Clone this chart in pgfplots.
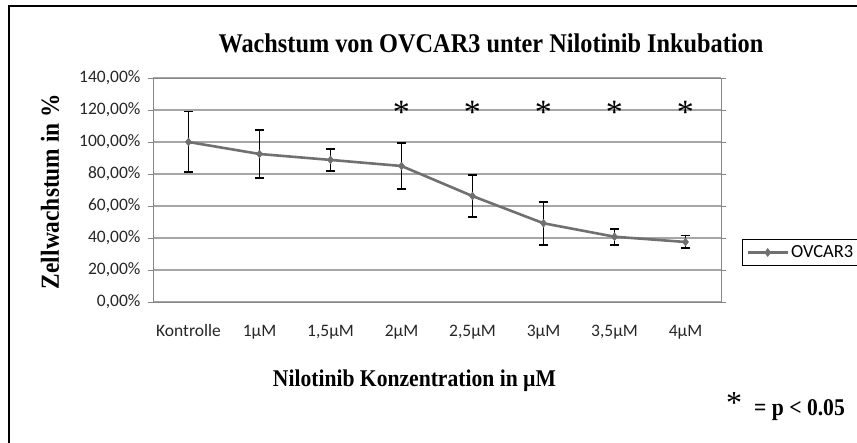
\documentclass[border=0pt]{standalone}
\usepackage{fontspec}
\setmainfont{Liberation Serif}
\newfontfamily\calib{Carlito}
\newfontfamily\condbf[FakeStretch=0.9]{Liberation Serif}
\usepackage{pgfplots}
\pgfplotsset{compat=1.18}
\definecolor{linegray}{HTML}{707070}
\definecolor{gridgray}{HTML}{A6A6A6}
\definecolor{framegray}{HTML}{868686}

\begin{document}
\begin{tikzpicture}[x=1pt,y=1pt]
  \useasboundingbox (0,0) rectangle (857,443);
  % outer frame (only top and left edge are visible)
  \draw[line width=2.5pt,black] (9,0) -- (9,437) -- (857,437);

  \begin{axis}[
    at={(153pt,141pt)}, anchor=south west,
    scale only axis, width=568pt, height=224pt,
    xmin=-0.5, xmax=7.5, ymin=0, ymax=140,
    xtick={0,...,7},
    xticklabels={Kontrolle,1µM,{1,5µM},2µM,{2,5µM},3µM,{3,5µM},4µM},
    ytick={0,20,...,140},
    yticklabels={{0,00\%},{20,00\%},{40,00\%},{60,00\%},{80,00\%},{100,00\%},{120,00\%},{140,00\%}},
    ticklabel style={font=\calib\fontsize{17.5}{19}\selectfont, text=black!85},
    xtick style={draw=none},
    ytick style={draw=framegray, line width=0.8pt},
    tick align=outside, major tick length=5pt,
    yticklabel style={xshift=-4pt},
    xticklabel style={yshift=-14pt, text height=12pt, text depth=4pt},
    axis line style={draw=framegray, line width=0.9pt},
    ymajorgrids, grid style={draw=gridgray, line width=1.2pt},
    legend style={at={(1.037,0.221)}, anchor=west, draw=black, line width=0.8pt,
      font=\calib\fontsize{18.5}{20}\selectfont, inner xsep=4pt, inner ysep=4pt},
    legend cell align=left,
    legend image code/.code={
      \draw[#1] (0pt,0pt) -- (40pt,0pt);
      \draw[#1, mark repeat=1] plot coordinates {(20pt,0pt)};
    },
  ]
    \addplot[color=linegray, line width=2.6pt, mark=diamond*, mark size=4pt,
      mark options={fill=linegray, draw=linegray, line width=0.5pt},
      error bars/.cd, y dir=both, y explicit,
      error bar style={black, line width=1.8pt},
      error mark options={rotate=90, mark size=4.5pt, line width=1.8pt, black}]
      coordinates {
        (0,100)  +- (0,19)
        (1,92.5) +- (0,15)
        (2,88.8) +- (0,7)
        (3,85)   +- (0,14.5)
        (4,66.2) +- (0,13)
        (5,49.2) +- (0,13.5)
        (6,40.8) +- (0,5)
        (7,37.5) +- (0,4)
      };
    \addlegendentry{OVCAR3}
    \addplot[draw=none, mark=none, forget plot,
      nodes near coords={\fontsize{34}{34}\selectfont *},
      every node near coord/.append style={anchor=base, inner sep=0pt}]
      coordinates {(3,111.5) (4,111.5) (5,111.5) (6,111.5) (7,111.5)};
  \end{axis}

  \node at (491,400) {\condbf\bfseries\fontsize{27}{30}\selectfont Wachstum von OVCAR3 unter Nilotinib Inkubation};
  \node[rotate=90] at (50,251.5) {\condbf\bfseries\fontsize{26}{30}\selectfont Zellwachstum in \%};
  \node at (414.5,62) {\condbf\bfseries\fontsize{24}{28}\selectfont Nilotinib Konzentration in µM};
  \node[anchor=base west, inner sep=0pt] at (726,29) {\fontsize{32}{32}\selectfont *};
  \node[anchor=base west, inner sep=0pt] at (754,27) {\condbf\bfseries\fontsize{24}{28}\selectfont = p < 0.05};
\end{tikzpicture}
\end{document}
